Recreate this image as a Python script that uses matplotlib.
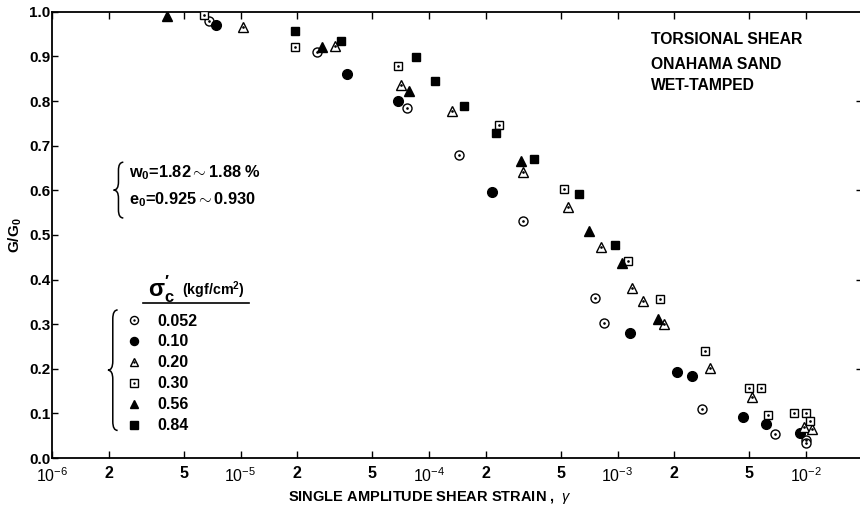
import numpy as np
import matplotlib
matplotlib.use("Agg")
import matplotlib.pyplot as plt
from matplotlib.lines import Line2D
from matplotlib.path import Path
from matplotlib.patches import PathPatch
from matplotlib.legend_handler import HandlerTuple

plt.rcParams['font.family'] = ['Liberation Sans', 'DejaVu Sans']
plt.rcParams['mathtext.fontset'] = 'custom'
plt.rcParams['mathtext.rm'] = 'Liberation Sans'
plt.rcParams['mathtext.it'] = 'Liberation Sans:italic'
plt.rcParams['mathtext.bf'] = 'Liberation Sans:bold'

# --- data (strain, G/G0) per confining stress ---
labels = ["0.052", "0.10", "0.20", "0.30", "0.56", "0.84"]

x_052 = [6.8e-6, 2.54e-5, 7.6e-5, 1.44e-4, 3.13e-4, 7.6e-4, 8.5e-4, 2.8e-3, 6.8e-3, 1.0e-2, 1.0e-2]
y_052 = [0.980, 0.911, 0.785, 0.679, 0.531, 0.359, 0.302, 0.109, 0.053, 0.040, 0.034]

x_010 = [7.4e-6, 3.66e-5, 6.85e-5, 2.16e-4, 1.16e-3, 2.06e-3, 2.49e-3, 4.61e-3, 6.1e-3, 9.3e-3]
y_010 = [0.971, 0.861, 0.801, 0.597, 0.280, 0.192, 0.184, 0.091, 0.077, 0.057]

x_020 = [1.03e-5, 3.18e-5, 7.08e-5, 1.32e-4, 3.16e-4, 5.46e-4, 8.2e-4, 1.19e-3, 1.36e-3, 1.76e-3,
         3.1e-3, 5.15e-3, 9.8e-3, 1.07e-2]
y_020 = [0.966, 0.924, 0.836, 0.778, 0.642, 0.562, 0.474, 0.381, 0.353, 0.300,
         0.203, 0.137, 0.070, 0.066]

x_030 = [6.4e-6, 1.95e-5, 6.82e-5, 2.36e-4, 5.19e-4, 1.13e-3, 1.67e-3, 2.92e-3, 4.97e-3, 5.73e-3,
         6.28e-3, 8.67e-3, 9.93e-3, 1.05e-2]
y_030 = [0.993, 0.921, 0.879, 0.746, 0.602, 0.442, 0.356, 0.240, 0.158, 0.157,
         0.096, 0.100, 0.100, 0.084]

x_056 = [4.07e-6, 2.7e-5, 7.8e-5, 3.06e-4, 7.03e-4, 1.05e-3, 1.63e-3]
y_056 = [0.991, 0.921, 0.823, 0.666, 0.509, 0.437, 0.312]

x_084 = [1.95e-5, 3.4e-5, 8.5e-5, 1.08e-4, 1.54e-4, 2.27e-4, 3.59e-4, 6.27e-4, 9.7e-4]
y_084 = [0.957, 0.934, 0.898, 0.844, 0.788, 0.728, 0.671, 0.592, 0.477]

major_ticks = [1e-6, 1e-5, 1e-4, 1e-3, 1e-2]
major_labels = [r"$10^{-6}$", r"$10^{-5}$", r"$10^{-4}$", r"$10^{-3}$", r"$10^{-2}$"]
minor_ticks = [2e-6, 5e-6, 2e-5, 5e-5, 2e-4, 5e-4, 2e-3, 5e-3]
minor_labels = ["2", "5"] * 4
right_ticks = [0.2, 0.4, 0.6, 0.8]

fig = plt.figure(figsize=(8.6, 5.13), dpi=100)
ax = fig.add_axes([0.0605, 0.107, 0.942, 0.870])

# (x, y, marker, filled)
series = [
    (x_052, y_052, 'o', False),
    (x_010, y_010, 'o', True),
    (x_020, y_020, '^', False),
    (x_030, y_030, 's', False),
    (x_056, y_056, '^', True),
    (x_084, y_084, 's', True),
]
handles = []
for (xs, ys, m, filled), lab in zip(series, labels):
    ms = 7 if m != 's' else 6.3
    if filled:
        ax.plot(xs, ys, ls='none', marker=m, ms=ms, mfc='black', mec='black', zorder=3)
        h = Line2D([], [], ls='none', marker=m, ms=ms - 1.2, mfc='black', mec='black')
    else:
        ax.plot(xs, ys, ls='none', marker=m, ms=ms - 0.5, mfc='white', mec='black', mew=1.0, zorder=3)
        ax.plot(xs, ys, ls='none', marker='.', ms=1.8, color='black', zorder=4)
        h = (Line2D([], [], ls='none', marker=m, ms=ms - 1.2, mfc='white', mec='black', mew=1.0),
             Line2D([], [], ls='none', marker='.', ms=1.5, color='black'))
    handles.append(h)

ax.set_xscale('log')
ax.set_xlim(1e-6, 10 ** (-6 + 810 / 188.5))
ax.set_ylim(0.0, 1.0)

ax.set_xticks(major_ticks)
ax.set_xticklabels(major_labels)
ax.set_xticks(minor_ticks, minor=True)
ax.set_xticklabels(minor_labels, minor=True)
ax.tick_params(axis='x', which='both', direction='in', length=5, width=1,
               labelsize=11.5, pad=6, top=True)
ax.set_yticks(np.arange(0, 1.01, 0.1))
ax.set_yticklabels([f"{v:.1f}" for v in np.arange(0, 1.01, 0.1)])
ax.tick_params(axis='y', direction='in', length=4, width=1, labelsize=11, pad=1)
for lbl in ax.get_yticklabels() + ax.get_xticklabels(minor=True):
    lbl.set_fontweight('bold')
for sp in ax.spines.values():
    sp.set_linewidth(1.3)
ax.spines['right'].set_visible(False)

# ticks on the (cut off) right axis
ax2 = ax.twinx()
ax2.set_ylim(0.0, 1.0)
ax2.set_yticks(right_ticks)
ax2.tick_params(axis='y', direction='in', length=4, width=1, labelright=False)
for sp in ax2.spines.values():
    sp.set_visible(False)

ax.set_xlabel(r"SINGLE AMPLITUDE SHEAR STRAIN ,  $\gamma$", fontsize=10.5,
              fontweight='bold', labelpad=5)
ax.xaxis.set_label_coords(0.467, -0.07)
ax.set_ylabel(r"G/G$_\mathregular{0}$", fontsize=11, fontweight='bold', labelpad=4)

# annotations
for txt, yy in [("TORSIONAL SHEAR", 0.939), ("ONAHAMA SAND", 0.881), ("WET-TAMPED", 0.834)]:
    ax.text(0.739, yy, txt, transform=ax.transAxes, fontsize=11.3, fontweight='bold', va='center')

ax.text(0.0955, 0.639, r"w$_\mathregular{0}$=1.82$\sim$1.88 %", transform=ax.transAxes,
        fontsize=11.8, fontweight='bold', va='center')
ax.text(0.0955, 0.578, r"e$_\mathregular{0}$=0.925$\sim$0.930", transform=ax.transAxes,
        fontsize=11.8, fontweight='bold', va='center')


def brace(x, y0, y1, w=0.006, r=0.02):
    # curly brace opening to the right, tip pointing left (axes coords)
    ym = (y0 + y1) / 2
    verts = [(x + w, y1), (x, y1), (x, y1 - r),
             (x, ym + r), (x, ym), (x - w, ym),
             (x, ym), (x, ym - r),
             (x, y0 + r), (x, y0), (x + w, y0)]
    codes = [Path.MOVETO, Path.CURVE3, Path.CURVE3,
             Path.LINETO, Path.CURVE3, Path.CURVE3,
             Path.CURVE3, Path.CURVE3,
             Path.LINETO, Path.CURVE3, Path.CURVE3]
    ax.add_patch(PathPatch(Path(verts, codes), fill=False, lw=1.1, ec='black',
                           transform=ax.transAxes, clip_on=False))


brace(0.082, 0.538, 0.663, r=0.018)
brace(0.075, 0.062, 0.332, r=0.02)

# legend block
ax.text(0.118, 0.378, r"$\mathbf{\sigma_c'}$", transform=ax.transAxes, fontsize=17, va='center')
ax.text(0.160, 0.376, r"(kgf/cm$^\mathregular{2}$)", transform=ax.transAxes, fontsize=10.3,
        fontweight='bold', va='center')
ax.plot([0.112, 0.243], [0.3475, 0.3475], color='black', lw=1.2, transform=ax.transAxes)

leg = ax.legend(handles, labels, loc='upper left', bbox_to_anchor=(0.085, 0.331),
                frameon=False, handlelength=1.2, handletextpad=0.9, labelspacing=0.37,
                borderaxespad=0, borderpad=0.2, prop={'weight': 'bold', 'size': 11.5},
                handler_map={tuple: HandlerTuple(ndivide=1, pad=0)})

fig.savefig("out.png", dpi=100)
